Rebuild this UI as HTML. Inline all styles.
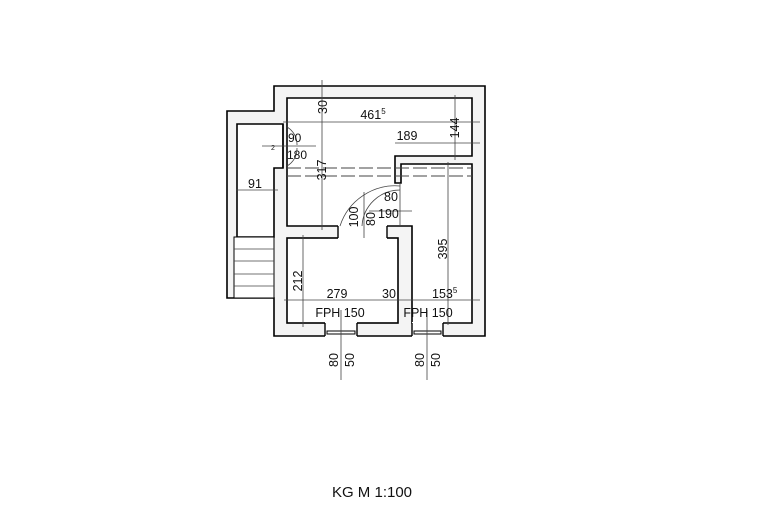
<!DOCTYPE html>
<html><head><style>body{margin:0;background:#fff}svg{display:block}text{font-family:"Liberation Sans",sans-serif;fill:#111}</style></head><body>
<svg width="770" height="531" viewBox="0 0 770 531" xmlns="http://www.w3.org/2000/svg">
<g stroke="#000" stroke-width="1.6">
<path d="M274,86 H485 V336 H274 V298 H227 V111 H274 Z" fill="#f4f4f4"/>
<path d="M237,124 H283 V168 H274 V237 H237 Z" fill="#fff"/>
<path d="M287,98 H472 V156 H395 V183 H401 V164 H472 V323 H412 V226 H287 Z" fill="#fff"/>
<rect x="287" y="238" width="111" height="85" fill="#fff"/>
<rect x="338" y="225" width="49" height="14" fill="#fff" stroke="none"/>
<rect x="234" y="237" width="40" height="61" fill="#fff" stroke-width="1"/>
<rect x="325" y="322" width="32" height="15" fill="#fff" stroke="none"/>
<rect x="412" y="322" width="31" height="15" fill="#fff" stroke="none"/>
</g>
<g stroke="#000" stroke-width="1.4">
<line x1="338" y1="226" x2="338" y2="238"/><line x1="387" y1="226" x2="387" y2="238"/>
<line x1="325" y1="323" x2="325" y2="336"/><line x1="357" y1="323" x2="357" y2="336"/>
<line x1="412" y1="323" x2="412" y2="336"/><line x1="443" y1="323" x2="443" y2="336"/>
<rect x="327" y="331" width="28" height="3" fill="none" stroke-width="1"/>
<rect x="414" y="331" width="27" height="3" fill="none" stroke-width="1"/>
<line x1="283" y1="124" x2="283" y2="168"/>
</g>
<g stroke="#444" stroke-width="0.8" fill="none">
<line x1="234" y1="249" x2="274" y2="249"/><line x1="234" y1="261" x2="274" y2="261"/>
<line x1="234" y1="274" x2="274" y2="274"/><line x1="234" y1="286" x2="274" y2="286"/>
<line x1="322" y1="80" x2="322" y2="230"/>
<line x1="283" y1="122" x2="480" y2="122"/>
<line x1="455" y1="95" x2="455" y2="160"/>
<line x1="395" y1="143" x2="480" y2="143"/>
<line x1="448" y1="162" x2="448" y2="325"/>
<line x1="284" y1="300" x2="480" y2="300"/>
<line x1="303" y1="235" x2="303" y2="327"/>
<line x1="236" y1="190" x2="278" y2="190"/>
<line x1="341" y1="310" x2="341" y2="380"/><line x1="427" y1="310" x2="427" y2="380"/>
<line x1="262" y1="146" x2="316" y2="146"/>
<line x1="369" y1="211" x2="412" y2="211"/>
<line x1="364" y1="192" x2="364" y2="238"/>
<line x1="400" y1="183" x2="400" y2="226"/>
<path d="M340,226 A58,58 0 0 1 400,186"/>
<path d="M362,226 A38,38 0 0 1 400,190"/>
<path d="M287,127 A20,20 0 0 1 297,145"/><path d="M287,166 A20,20 0 0 0 297,148"/>
</g>
<g stroke="#444" stroke-width="0.9" stroke-dasharray="14,4" fill="none">
<line x1="287" y1="168" x2="472" y2="168"/><line x1="287" y1="176" x2="472" y2="176"/>
</g>
<g font-size="12.5">
<text transform="translate(327,107) rotate(-90)" text-anchor="middle">30</text>
<text x="373" y="119" text-anchor="middle">461<tspan font-size="8" dy="-5">5</tspan></text>
<text x="407" y="140" text-anchor="middle">189</text>
<text transform="translate(459,128) rotate(-90)" text-anchor="middle">144</text>
<text transform="translate(326,170) rotate(-90)" text-anchor="middle">317</text>
<text x="288" y="142" font-size="12">90</text>
<text x="287" y="159" font-size="12">180</text>
<text x="271" y="150" font-size="7">2</text>
<text x="248" y="188">91</text>
<text x="384" y="201">80</text>
<text x="378" y="218">190</text>
<text transform="translate(358,217) rotate(-90)" text-anchor="middle">100</text>
<text transform="translate(375,219) rotate(-90)" text-anchor="middle">80</text>
<text transform="translate(447,249) rotate(-90)" text-anchor="middle">395</text>
<text transform="translate(302,281) rotate(-90)" text-anchor="middle">212</text>
<text x="337" y="298" text-anchor="middle">279</text>
<text x="389" y="298" text-anchor="middle">30</text>
<text x="432" y="298">153<tspan font-size="8" dy="-5">5</tspan></text>
<text x="340" y="317" text-anchor="middle">FPH 150</text>
<text x="428" y="317" text-anchor="middle">FPH 150</text>
<text transform="translate(338,360) rotate(-90)" text-anchor="middle">80</text>
<text transform="translate(354,360) rotate(-90)" text-anchor="middle">50</text>
<text transform="translate(424,360) rotate(-90)" text-anchor="middle">80</text>
<text transform="translate(440,360) rotate(-90)" text-anchor="middle">50</text>
</g>
<text x="372" y="497" text-anchor="middle" font-size="15">KG M 1:100</text>
</svg>
</body></html>
